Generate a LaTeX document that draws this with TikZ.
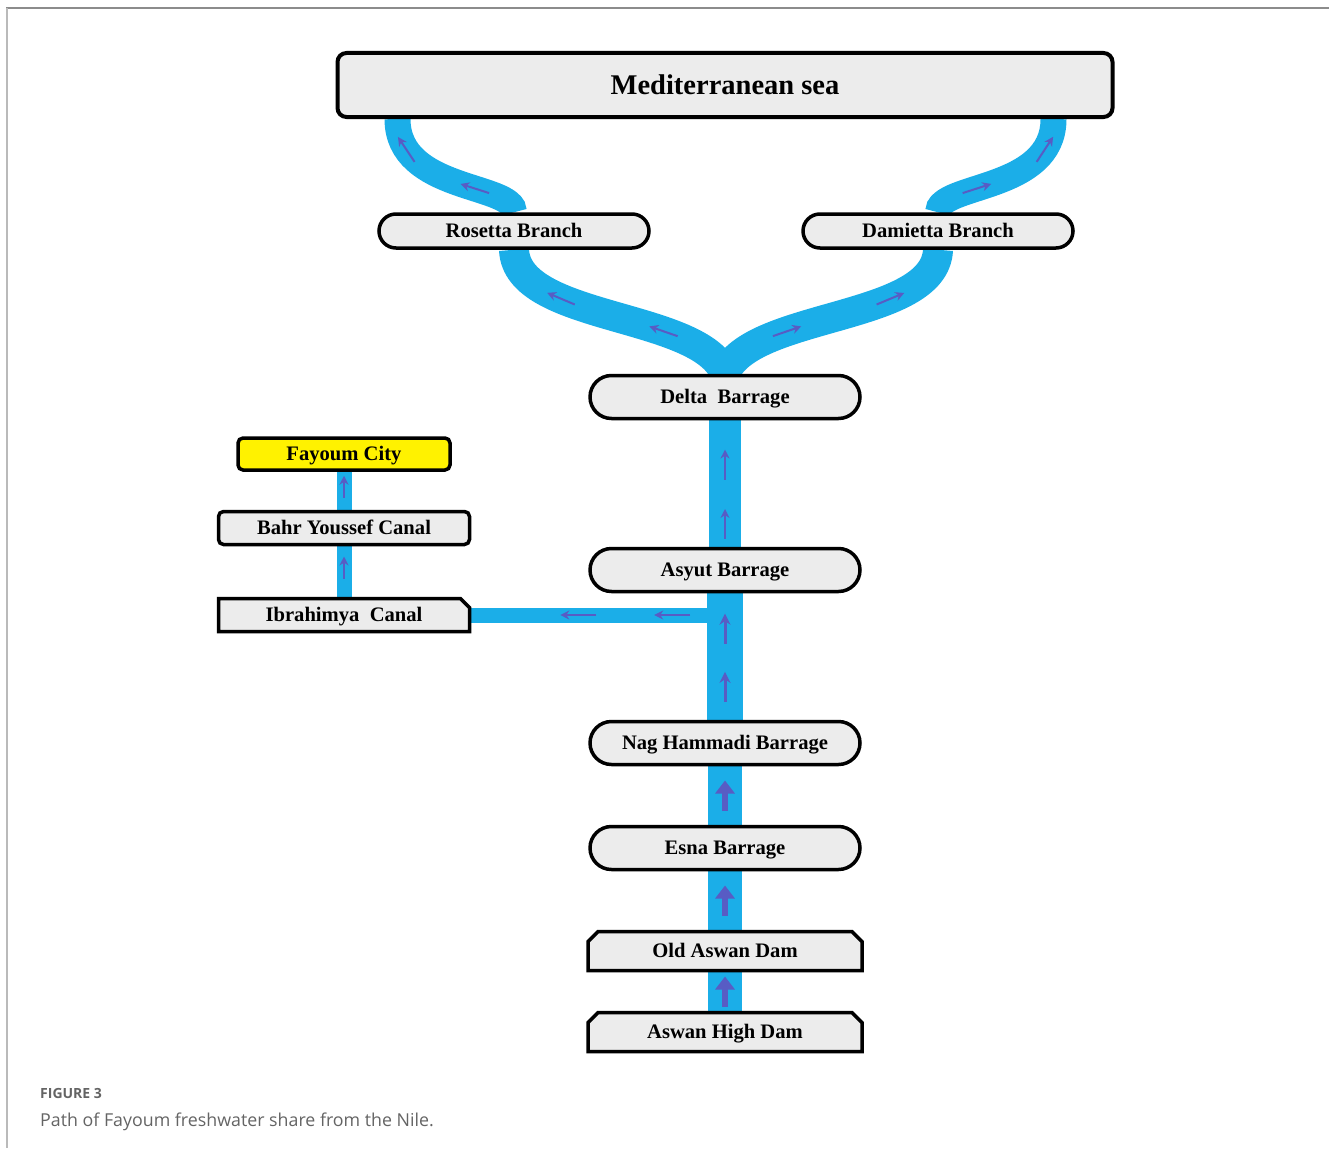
\documentclass[tikz,border=0pt]{standalone}
\usepackage{fontspec}
\setmainfont{Liberation Serif}
\newfontfamily\capfont{Open Sans}
\usetikzlibrary{shapes.misc,arrows.meta,decorations.markings,backgrounds}

\definecolor{nileblue}{RGB}{27,174,232}
\definecolor{flowcol}{RGB}{88,92,196}
\definecolor{boxgray}{RGB}{236,236,236}
\definecolor{framegray}{RGB}{140,140,140}
\definecolor{capgray}{RGB}{100,100,100}

\tikzset{
  box/.style={draw=black, line width=3.5pt, fill=boxgray, inner sep=2pt, text depth=1.5pt,
    font=\bfseries\fontsize{20.6}{22}\selectfont},
  medbox/.style={box, rectangle, rounded corners=9pt, line width=4pt,
    minimum width=775pt, minimum height=64pt, font=\bfseries\fontsize{28.5}{30}\selectfont},
  pill/.style={box, rounded rectangle, minimum width=274pt, minimum height=43pt},
  branch/.style={pill, minimum height=34pt},
  flatbox/.style={box, rectangle, rounded corners=5pt, minimum width=251pt, minimum height=33pt},
  dambox/.style={box, chamfered rectangle, chamfered rectangle corners={north west,north east},
    chamfered rectangle xsep=7pt, minimum width=274pt, minimum height=39pt},
  canalbox/.style={box, chamfered rectangle, chamfered rectangle corners={north east},
    chamfered rectangle xsep=6pt, minimum width=251pt, minimum height=33pt},
  stream/.style={draw=nileblue, line width=#1},
  flowat/.style 2 args={postaction={decorate, decoration={markings,
    mark=at position #1 with {\draw[#2] (-15pt,0) -- (15pt,0);}}}},
  flowtip/.style={draw=flowcol, line width=2pt, -{Stealth[length=9pt,width=9pt]}},
  midtip/.style={flowtip, line width=3pt, -{Stealth[length=11pt,width=11pt]}},
  bigtip/.style={flowtip, line width=6pt, -{Triangle[length=13pt,width=19pt]}},
  smalltip/.style={flowtip, shorten <=8pt},
  canaltip/.style={flowtip, shorten <=-6pt},
}

\begin{document}
\begin{tikzpicture}[x=1pt,y=-1pt]
\useasboundingbox (0,0) rectangle (1329,1148);

% boxes
\node[medbox] (med) at (725,85) {Mediterranean sea};
\node[branch] (rosetta) at (514,231) {Rosetta Branch};
\node[branch] (damietta) at (938,231) {Damietta Branch};
\node[pill] (delta) at (725,397) {Delta\ \ Barrage};
\node[pill] (asyut) at (725,570) {Asyut Barrage};
\node[pill] (nag) at (725,743) {Nag Hammadi Barrage};
\node[pill] (esna) at (725,848) {Esna Barrage};
\node[dambox] (oldaswan) at (725,951) {Old Aswan Dam};
\node[dambox] (highdam) at (725,1032) {Aswan High Dam};
\node[flatbox, fill=yellow, minimum width=212pt, minimum height=32pt] (fayoum) at (344,454) {Fayoum City};
\node[flatbox] (bahr) at (344,528) {Bahr Youssef Canal};
\node[canalbox] (ibrahimya) at (344,615) {Ibrahimya\ \ Canal};

\coordinate (rosettamouth) at ([xshift=62pt]med.south west);
\coordinate (damiettamouth) at ([xshift=-61pt]med.south east);
\coordinate (split) at (asyut.south |- ibrahimya.east);

% caption
\node[anchor=base west, inner sep=0, text=capgray, font=\capfont\bfseries\fontsize{14}{16}\selectfont]
  (figlabel) at (40,1098) {FIGURE 3};
\node[anchor=base west, inner sep=0, text=capgray, font=\capfont\fontsize{17.8}{20}\selectfont]
  (caption) at (40,1126) {Path of Fayoum freshwater share from the Nile.};

\begin{scope}[on background layer]
  % frame
  \draw[framegray, line width=2pt] (6,8) -- (1329,8);
  \draw[framegray!60, line width=2.5pt] (7,8) -- (7,1148);

  % the Nile
  \draw[stream=15pt, flowat={0.22}{canaltip}, flowat={0.59}{canaltip}] (split) -- (ibrahimya.east);
  \draw[stream=15pt, flowat={0.5}{smalltip}] (ibrahimya.north) -- (bahr.south);
  \draw[stream=15pt, flowat={0.5}{smalltip}] (bahr.north) -- (fayoum.south);
  \foreach \a/\b in {highdam/oldaswan, oldaswan/esna, esna/nag}
  {
    \draw[stream=34pt, flowat={0.5}{bigtip}] (\a.north) -- (\b.south);
  }
  \draw[stream=36pt, flowat={0.26}{midtip}, flowat={0.72}{midtip}] (nag.north) -- (asyut.south);
  \draw[stream=32pt, flowat={0.18}{flowtip}, flowat={0.65}{flowtip}] (asyut.north) -- (delta.south);

  \draw[stream=30pt, flowat={0.3}{flowtip}, flowat={0.72}{flowtip}]
    (delta.north) .. controls +(-25,-62) and +(3,72) .. (rosetta.south);
  \draw[stream=30pt, flowat={0.3}{flowtip}, flowat={0.72}{flowtip}]
    (delta.north) .. controls +(25,-62) and +(-3,72) .. (damietta.south);
  \draw[stream=26pt, flowat={0.3}{flowtip}, flowat={0.8}{flowtip}]
    (rosetta.north) .. controls +(0,-29) and +(0,73) .. (rosettamouth);
  \draw[stream=26pt, flowat={0.3}{flowtip}, flowat={0.8}{flowtip}]
    (damietta.north) .. controls +(0,-29) and +(0,73) .. (damiettamouth);
\end{scope}
\end{tikzpicture}
\end{document}
